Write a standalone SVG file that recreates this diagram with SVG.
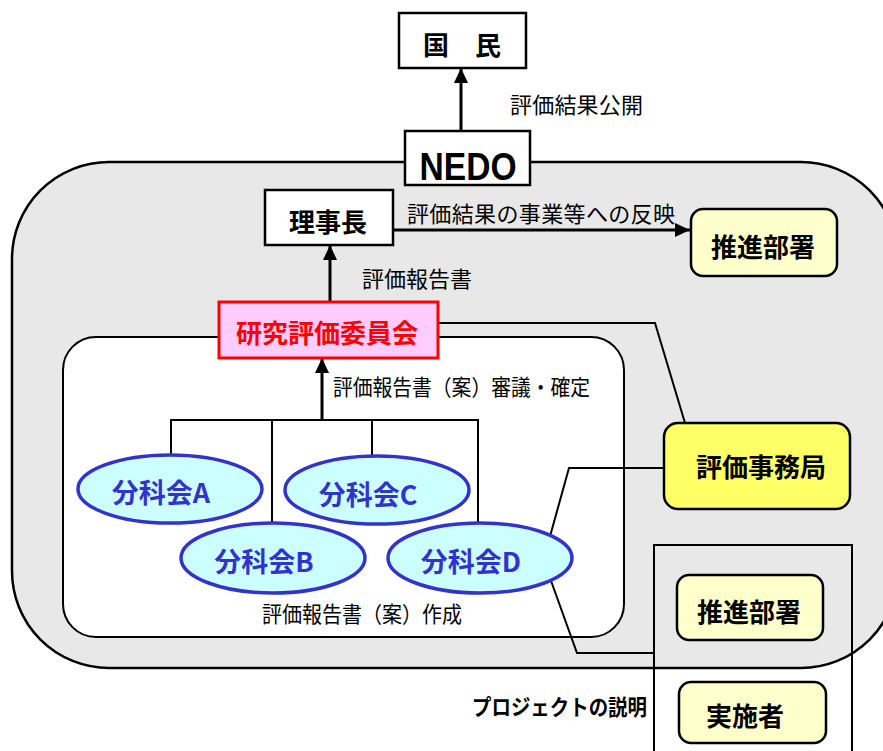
<svg xmlns="http://www.w3.org/2000/svg" width="883" height="751" viewBox="0 0 883 751">
<style>
.t{font-family:"Noto Sans CJK JP","Noto Sans CJK SC",sans-serif;fill:#000;dominant-baseline:central}
.lbl{font-size:22px}
.nd{font-weight:bold;font-size:26px;text-anchor:middle}
.box{fill:#fff;stroke:#000;stroke-width:2.5}
.yl{fill:#ffffcc;stroke:#000;stroke-width:2.5}
.el{fill:#ccffff;stroke:#3333cc;stroke-width:3.5}
.elt{fill:#3333cc;font-size:27px}
.ln{fill:none;stroke:#000;stroke-width:2}
.ar{fill:none;stroke:#000;stroke-width:3}
</style>
<defs>
<marker id="ah" markerUnits="userSpaceOnUse" viewBox="0 0 15 14" refX="15" refY="7" markerWidth="15" markerHeight="14" orient="auto">
<path d="M0,0 L15,7 L0,14 z" fill="#000"/>
</marker>
</defs>
<g id="background">
<rect x="12" y="162" width="886" height="506" rx="97" fill="#e8e8e8" stroke="#000" stroke-width="2.5"/>
<rect x="63" y="337" width="561" height="300" rx="33" fill="#fff" stroke="#000" stroke-width="2"/>
<path d="M654,751 V545 H852 V751" class="ln"/>
</g>
<g id="connectors">
<line x1="461" y1="131" x2="461" y2="68" class="ar" marker-end="url(#ah)"/>
<line x1="330" y1="302" x2="330" y2="245" class="ar" marker-end="url(#ah)"/>
<line x1="393" y1="230" x2="690" y2="230" class="ar" marker-end="url(#ah)"/>
<line x1="322" y1="420" x2="322" y2="358" class="ar" marker-end="url(#ah)"/>
<path d="M171,455 V420 H478 V528 M272,420 V526 M372,420 V458" class="ln"/>
<path d="M438,323 H655 L685,423" class="ln"/>
<path d="M664,468 H569 L549,540" class="ln"/>
<path d="M550,578 L577,653 H654" class="ln"/>
</g>
<g id="labels">
<text class="t lbl" x="510" y="103" textLength="133">評価結果公開</text>
<text class="t lbl" x="407" y="212" textLength="268">評価結果の事業等への反映</text>
<text class="t lbl" x="362" y="277" textLength="110">評価報告書</text>
<text class="t lbl" x="333" y="385" textLength="257" lengthAdjust="spacingAndGlyphs">評価報告書（案）審議・確定</text>
<text class="t lbl" x="262" y="612" textLength="200" lengthAdjust="spacingAndGlyphs">評価報告書（案）作成</text>
<text class="t lbl" x="472" y="705" textLength="175" lengthAdjust="spacingAndGlyphs" font-weight="bold" font-size="21">プロジェクトの説明</text>
</g>
<g id="kokumin">
<rect x="399" y="13" width="127" height="55" class="box"/>
<text class="t nd" x="462" y="43" font-size="30">国　民</text>
</g>
<g id="nedo">
<rect x="405" y="131" width="125" height="54" class="box"/>
<text x="468" y="180" font-family="'Liberation Sans',Arial,sans-serif" font-weight="bold" font-size="38" text-anchor="middle" textLength="97" lengthAdjust="spacingAndGlyphs">NEDO</text>
</g>
<g id="rijicho">
<rect x="265" y="190" width="128" height="55" class="box"/>
<text class="t nd" x="328" y="220">理事長</text>
</g>
<g id="suishin1">
<rect x="691" y="209" width="146" height="67" rx="12" class="yl"/>
<text class="t nd" x="763" y="245">推進部署</text>
</g>
<g id="kenkyu">
<rect x="219" y="302" width="219" height="56" fill="#ffccff" stroke="#ff0000" stroke-width="3"/>
<text class="t nd" x="327" y="331" font-size="23" style="fill:#ff0000">研究評価委員会</text>
</g>
<g id="bunkaA">
<ellipse cx="170" cy="489" rx="92" ry="34" class="el"/>
<text class="t nd elt" x="161" y="491">分科会A</text>
</g>
<g id="bunkaC">
<ellipse cx="377" cy="490" rx="92" ry="34" class="el"/>
<text class="t nd elt" x="368" y="493">分科会C</text>
</g>
<g id="bunkaB">
<ellipse cx="273" cy="558" rx="92" ry="35" class="el"/>
<text class="t nd elt" x="264" y="560">分科会B</text>
</g>
<g id="bunkaD">
<ellipse cx="480" cy="558" rx="92" ry="35" class="el"/>
<text class="t nd elt" x="471" y="560">分科会D</text>
</g>
<g id="jimukyoku">
<rect x="664" y="423" width="186" height="86" rx="14" fill="#ffff66" stroke="#000" stroke-width="2.5"/>
<text class="t nd" x="761" y="465">評価事務局</text>
</g>
<g id="suishin2">
<rect x="677" y="575" width="146" height="65" rx="12" class="yl"/>
<text class="t nd" x="749" y="610">推進部署</text>
</g>
<g id="jisshisha">
<rect x="679" y="682" width="147" height="61" rx="12" class="yl"/>
<text class="t nd" x="745" y="714">実施者</text>
</g>
</svg>
